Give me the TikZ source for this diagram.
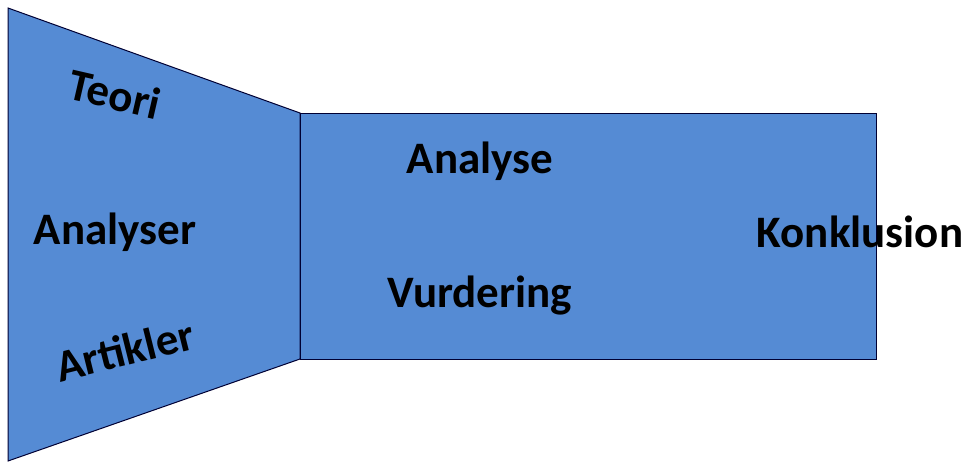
\documentclass[tikz,border=0pt]{standalone}
\usepackage{fontspec}
\setmainfont{Carlito}
\definecolor{boxblue}{RGB}{85,139,212}
\newcommand{\lblsize}{\fontsize{45}{54}\selectfont\bfseries}

\begin{document}
\begin{tikzpicture}[x=1pt, y=-1pt, font=\lblsize,
  part/.style={fill=boxblue, draw=black!80!blue, line width=1pt},
  lbl/.style={inner sep=0pt, text=black}]
\useasboundingbox (0,0) rectangle (968,463);

% funnel
\draw[part] (8,8) -- (300,113) -- (300,359) -- (8,461) -- cycle;
% body
\draw[part] (300,113) rectangle (876,359);

\node[lbl, rotate=-13] (teori) at (115,94) {Teori};
\node[lbl] (analyser) at (115,232) {Analyser};
\node[lbl, rotate=14] (artikler) at (125,350) {Artikler};

\node[lbl] (analyse) at (480,161) {Analyse};
\node[lbl] (vurdering) at (480,296) {Vurdering};
\node[lbl] (konklusion) at (860,232) {Konklusion};
\end{tikzpicture}
\end{document}
